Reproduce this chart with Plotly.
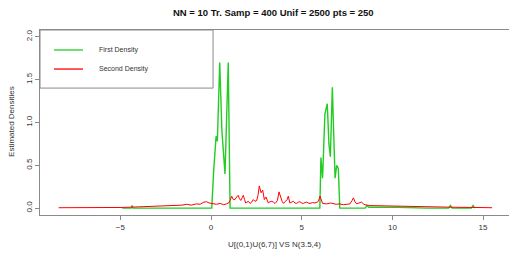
import plotly.graph_objects as go

title_text = "NN = 10 Tr. Samp = 400 Unif = 2500 pts = 250"
x_label = "U[(0,1)U(6,7)] VS N(3.5,4)"
y_label = "Estimated Densities"
series_names = ["First Density", "Second Density"]

x_ticks = [-5, 0, 5, 10, 15]
y_ticks = [0.0, 0.5, 1.0, 1.5, 2.0]
y_tick_labels = ["0.0", "0.5", "1.0", "1.5", "2.0"]

first_x = [-4.9, -4.4, -4.35, -4.3, 0.0, 0.04, 0.15, 0.28, 0.35, 0.48, 0.6, 0.77, 0.95, 1.05,
           6.0, 6.06, 6.15, 6.28, 6.41, 6.5, 6.58, 6.69, 6.76, 6.84, 6.93, 7.02, 7.1,
           8.5, 8.6, 8.7, 9.5, 10.3, 11.9, 13.1, 13.2, 13.3, 14.35, 14.45, 14.55]
first_y = [0, 0, 0.03, 0, 0, 0, 0.45, 0.84, 0.78, 1.70, 0.9, 0.40, 1.70, 0,
           0, 0.59, 0.35, 1.10, 1.22, 0.75, 0.60, 1.41, 0.9, 0.35, 0.5, 0.46, 0,
           0.0, 0.03, 0.01, 0.01, 0.01, 0.0, 0, 0.03, 0, 0, 0.03, 0]

second_x = [-8.4, -6.0, -4.9, -4.0, -3.0, -2.5, -2.0, -1.6, -1.34, -1.1,
            -0.8, -0.6, -0.4, -0.25, -0.1, 0.1, 0.3, 0.5, 0.7, 0.85,
            1.0, 1.05, 1.14, 1.23, 1.32, 1.41, 1.5, 1.57, 1.64, 1.71,
            1.78, 1.85, 1.91, 1.98, 2.06, 2.15, 2.24, 2.33, 2.42, 2.52,
            2.6, 2.66, 2.72, 2.76, 2.85, 2.94, 3.03, 3.1, 3.16, 3.25,
            3.35, 3.44, 3.53, 3.6, 3.66, 3.75, 3.84, 3.92, 3.99, 4.06,
            4.13, 4.2, 4.26, 4.35, 4.45, 4.54, 4.63, 4.72, 4.81, 4.9,
            5.0, 5.09, 5.18, 5.27, 5.36, 5.46, 5.6, 5.73, 5.85, 5.92,
            6.01, 6.08, 6.15, 6.37, 6.6, 6.9, 7.1, 7.3, 7.5, 7.66,
            7.78, 7.85, 7.95, 8.03, 8.15, 8.3, 8.4, 8.49, 8.76, 9.1,
            9.5, 10.05, 10.5, 11.0, 11.9, 12.5, 13.5, 14.5, 15.5]
second_y = [0.005, 0.005, 0.008, 0.015, 0.02, 0.025, 0.03, 0.035, 0.045, 0.035,
            0.05, 0.045, 0.07, 0.075, 0.06, 0.05, 0.045, 0.055, 0.04, 0.05,
            0.065, 0.09, 0.14, 0.10, 0.10, 0.13, 0.15, 0.11, 0.09, 0.12,
            0.15, 0.10, 0.06, 0.07, 0.08, 0.055, 0.07, 0.10, 0.08, 0.09,
            0.16, 0.26, 0.20, 0.18, 0.21, 0.10, 0.13, 0.09, 0.06, 0.075,
            0.08, 0.07, 0.055, 0.07, 0.09, 0.19, 0.12, 0.08, 0.055, 0.07,
            0.075, 0.10, 0.14, 0.06, 0.07, 0.08, 0.06, 0.055, 0.07, 0.075,
            0.06, 0.055, 0.065, 0.07, 0.06, 0.055, 0.065, 0.06, 0.07, 0.08,
            0.14, 0.08, 0.055, 0.05, 0.06, 0.045, 0.05, 0.04, 0.045, 0.05,
            0.09, 0.12, 0.07, 0.05, 0.06, 0.07, 0.05, 0.04, 0.03, 0.028,
            0.025, 0.025, 0.02, 0.02, 0.015, 0.012, 0.01, 0.008, 0.005]
assert len(first_x) == len(first_y)
assert len(second_x) == len(second_y)

GREEN = "#22cc22"
RED = "#ff0000"
AXIS = "#8a8a8a"
TEXT = "#333333"
FONT = "Liberation Sans, Arial, sans-serif"

fig = go.Figure()
fig.add_trace(go.Scatter(x=first_x, y=first_y, mode="lines", name=series_names[0],
                         line=dict(color=GREEN, width=1.4), showlegend=False))
fig.add_trace(go.Scatter(x=second_x, y=second_y, mode="lines", name=series_names[1],
                         line=dict(color=RED, width=1.0), showlegend=False))

fig.update_layout(
    width=509, height=256,
    margin=dict(l=40, r=0, t=30, b=41),
    paper_bgcolor="white", plot_bgcolor="white",
    font=dict(family=FONT, size=8, color=TEXT),
    title=dict(text="<b>" + title_text + "</b>", x=0.537, xanchor="center",
               y=1 - 13 / 256, yanchor="middle",
               font=dict(size=9.5, color="#111111", family=FONT)),
    xaxis=dict(range=[-9.43, 16.43], tickvals=x_ticks, ticks="outside", ticklen=4,
               tickcolor=AXIS, showline=True, linecolor=AXIS, linewidth=1, mirror=True,
               showgrid=False, zeroline=False, automargin=False,
               tickfont=dict(size=8, color=TEXT)),
    yaxis=dict(range=[-0.08, 2.08], tickvals=y_ticks, ticktext=y_tick_labels,
               ticks="outside", ticklen=4, tickcolor=AXIS, tickangle=-90,
               showline=True, linecolor=AXIS, linewidth=1, mirror=False,
               showgrid=False, zeroline=False, automargin=False,
               tickfont=dict(size=8, color=TEXT)),
)

# axis titles
fig.add_annotation(text=x_label, xref="paper", yref="paper", x=0.501, y=-0.157,
                   showarrow=False, font=dict(size=8, color=TEXT), xanchor="center", yanchor="middle")
fig.add_annotation(text=y_label, xref="paper", yref="paper", x=-0.0597, y=0.503,
                   showarrow=False, textangle=-90, font=dict(size=8, color=TEXT),
                   xanchor="center", yanchor="middle")

# legend box (R-style)
lx0, lx1, ly0, ly1 = 0.0, 0.369, 0.686, 1.0
fig.add_shape(type="rect", xref="paper", yref="paper", x0=lx0, x1=lx1, y0=ly0, y1=ly1,
              line=dict(color=AXIS, width=1), fillcolor="white", layer="above")
for name, color, yy in [(series_names[0], GREEN, 0.892), (series_names[1], RED, 0.789)]:
    fig.add_shape(type="line", xref="paper", yref="paper", x0=0.0299, x1=0.0917, y0=yy, y1=yy,
                  line=dict(color=color, width=1.3), layer="above")
    fig.add_annotation(text=name, xref="paper", yref="paper", x=0.1215, y=yy, showarrow=False,
                       xanchor="left", yanchor="middle", font=dict(size=7, color=TEXT))

fig.write_html("out.html", config={"displayModeBar": False},
               post_script="document.body.style.margin='0';document.body.style.padding='0';")
